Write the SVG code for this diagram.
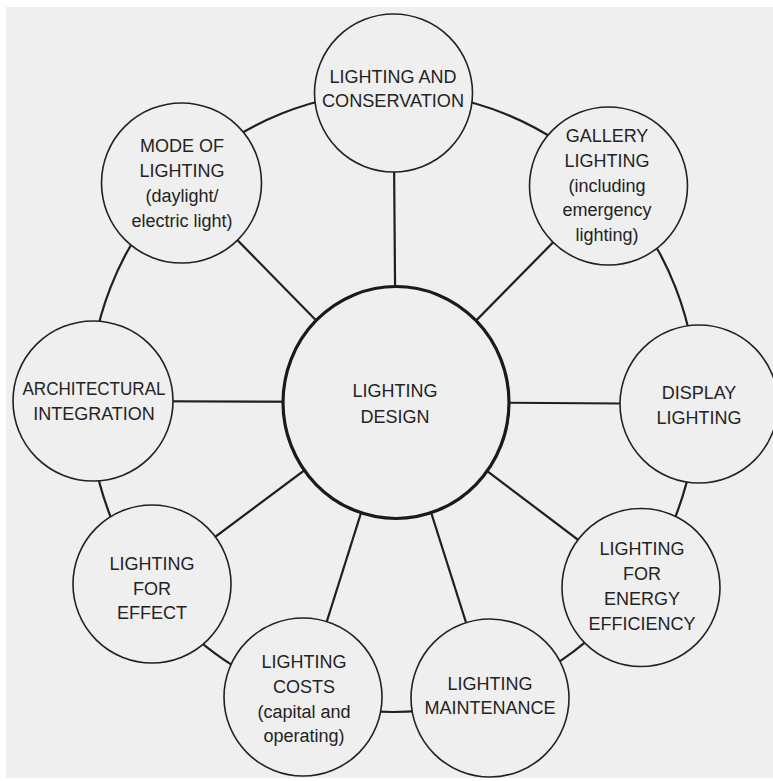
<svg xmlns="http://www.w3.org/2000/svg" width="773" height="781" viewBox="0 0 773 781">
  <style>
    .node { fill: #efefef; stroke: #222; stroke-width: 1.6; }
    .hub { fill: #efefef; stroke: #1a1a1a; stroke-width: 3.2; }
    .link { fill: none; stroke: #1f1f1f; stroke-width: 2.2; }
    .label { font-family: "Liberation Sans", Arial, sans-serif; font-size: 18px; fill: #232323; text-anchor: middle; }
  </style>

  <!-- paper -->
  <rect x="0" y="0" width="773" height="781" fill="#ffffff"/>
  <rect x="6" y="7" width="767" height="771" fill="#efefef"/>

  <!-- connectors: outer ring and spokes from the hub -->
  <g id="connectors">
    <ellipse class="link" cx="393" cy="402" rx="304" ry="310"/>
    <line class="link" x1="396" y1="402" x2="393.5" y2="93"/>
    <line class="link" x1="396" y1="402" x2="608.5" y2="186"/>
    <line class="link" x1="396" y1="402" x2="699" y2="404"/>
    <line class="link" x1="396" y1="402" x2="641" y2="587.5"/>
    <line class="link" x1="396" y1="402" x2="490" y2="698"/>
    <line class="link" x1="396" y1="402" x2="303" y2="697"/>
    <line class="link" x1="396" y1="402" x2="152" y2="584"/>
    <line class="link" x1="396" y1="402" x2="93" y2="401"/>
    <line class="link" x1="396" y1="402" x2="181.5" y2="183"/>
  </g>

  <g id="lighting-design">
    <ellipse class="hub" cx="396" cy="402.5" rx="113" ry="116"/>
    <text class="label" x="395" y="397">LIGHTING</text>
    <text class="label" x="395" y="423">DESIGN</text>
  </g>

  <g id="lighting-and-conservation">
    <circle class="node" cx="393.5" cy="93" r="79"/>
    <text class="label" x="393" y="83">LIGHTING AND</text>
    <text class="label" x="393" y="107" textLength="142" lengthAdjust="spacingAndGlyphs">CONSERVATION</text>
  </g>

  <g id="gallery-lighting">
    <circle class="node" cx="608.5" cy="186" r="79"/>
    <text class="label" x="607" y="142">GALLERY</text>
    <text class="label" x="607" y="167">LIGHTING</text>
    <text class="label" x="607" y="192">(including</text>
    <text class="label" x="607" y="216">emergency</text>
    <text class="label" x="607" y="241">lighting)</text>
  </g>

  <g id="display-lighting">
    <circle class="node" cx="699" cy="404" r="79"/>
    <text class="label" x="699" y="399">DISPLAY</text>
    <text class="label" x="699" y="424">LIGHTING</text>
  </g>

  <g id="energy-efficiency">
    <circle class="node" cx="641" cy="587.5" r="79"/>
    <text class="label" x="642" y="555">LIGHTING</text>
    <text class="label" x="642" y="580">FOR</text>
    <text class="label" x="642" y="605">ENERGY</text>
    <text class="label" x="642" y="630">EFFICIENCY</text>
  </g>

  <g id="lighting-maintenance">
    <circle class="node" cx="490" cy="698" r="79"/>
    <text class="label" x="490" y="690">LIGHTING</text>
    <text class="label" x="490" y="714">MAINTENANCE</text>
  </g>

  <g id="lighting-costs">
    <circle class="node" cx="303" cy="697" r="79"/>
    <text class="label" x="304" y="668">LIGHTING</text>
    <text class="label" x="304" y="693">COSTS</text>
    <text class="label" x="304" y="718">(capital and</text>
    <text class="label" x="304" y="742">operating)</text>
  </g>

  <g id="lighting-for-effect">
    <circle class="node" cx="152" cy="584" r="79"/>
    <text class="label" x="152" y="570">LIGHTING</text>
    <text class="label" x="152" y="595">FOR</text>
    <text class="label" x="152" y="619">EFFECT</text>
  </g>

  <g id="architectural-integration">
    <circle class="node" cx="93" cy="401" r="80"/>
    <text class="label" x="94" y="395" textLength="143" lengthAdjust="spacingAndGlyphs">ARCHITECTURAL</text>
    <text class="label" x="94" y="420">INTEGRATION</text>
  </g>

  <g id="mode-of-lighting">
    <circle class="node" cx="181.5" cy="183" r="80"/>
    <text class="label" x="182" y="152">MODE OF</text>
    <text class="label" x="182" y="177">LIGHTING</text>
    <text class="label" x="182" y="202">(daylight/</text>
    <text class="label" x="182" y="227">electric light)</text>
  </g>
</svg>
